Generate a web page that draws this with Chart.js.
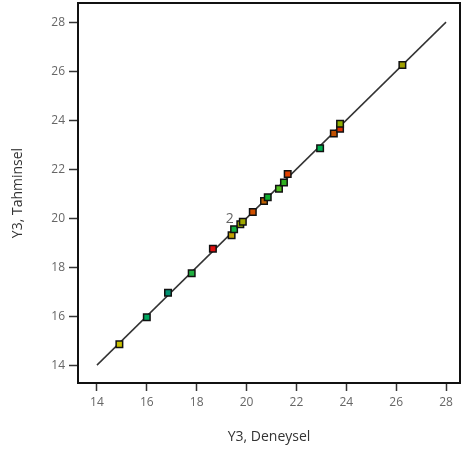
<!DOCTYPE html>
<html>
<head>
<meta charset="utf-8">
<script src="https://cdn.jsdelivr.net/npm/chart.js@4"></script>
<style>
  html, body { margin: 0; padding: 0; background: #fff; }
  #wrap { width: 462px; height: 452px; }
</style>
</head>
<body>
<div id="wrap"><canvas id="c" width="462" height="452"></canvas></div>
<script>
// Y3 actual (Deneysel) vs predicted (Tahminsel)
const actual    = [14.9, 16.0, 16.85, 17.8, 18.65, 19.4, 19.5, 19.75, 19.85, 20.25, 20.7, 20.85, 21.3, 21.5, 21.65, 22.95, 23.5, 23.75, 23.75, 26.25];
const predicted = [14.85, 15.95, 16.95, 17.75, 18.75, 19.3, 19.55, 19.75, 19.85, 20.25, 20.7, 20.85, 21.2, 21.45, 21.8, 22.85, 23.45, 23.65, 23.85, 26.25];
const pointColors = ['#c8c000', '#00a860', '#009070', '#20b040', '#e01010', '#c0a000', '#10b040', '#a0b000', '#a0a800', '#d05000',
                     '#c06000', '#10b030', '#50c020', '#30b020', '#e04000', '#00b050', '#c05000', '#e03000', '#90b000', '#a0a000'];
const tickValues = [14, 16, 18, 20, 22, 24, 26, 28];
const refLine = [14, 28];
// "2" marks two overlapping runs
const overlapLabel = { x: 19.33, y: 19.95, text: '2' };

const font = "'Open Sans', 'DejaVu Sans', sans-serif";

const frame = {
    id: 'frame',
    afterDatasetsDraw(chart) {
        const a = chart.chartArea, ctx = chart.ctx;
        ctx.save();
        ctx.strokeStyle = '#111';
        ctx.lineWidth = 2;
        ctx.strokeRect(a.left, a.top, a.right - a.left, a.bottom - a.top);
        // overlap count label
        const px = chart.scales.x.getPixelForValue(overlapLabel.x);
        const py = chart.scales.y.getPixelForValue(overlapLabel.y);
        ctx.font = '14px ' + font;
        ctx.textAlign = 'center';
        ctx.textBaseline = 'middle';
        ctx.lineWidth = 2;
        ctx.strokeStyle = '#fff';
        ctx.strokeText(overlapLabel.text, px, py);
        ctx.fillStyle = '#666';
        ctx.fillText(overlapLabel.text, px, py);
        ctx.restore();
    }
};

function fixedTicks(scale) {
    scale.ticks = tickValues.map(v => ({ value: v }));
}

new Chart(document.getElementById('c').getContext('2d'), {
    type: 'scatter',
    data: {
        datasets: [{
            data: actual.map((v, i) => ({ x: v, y: predicted[i] })),
            pointStyle: 'rect',
            pointRadius: 4.6,
            pointHoverRadius: 4.6,
            backgroundColor: pointColors,
            borderColor: '#111',
            borderWidth: 1.5
        }, {
            type: 'line',
            data: refLine.map(v => ({ x: v, y: v })),
            borderColor: '#333',
            borderWidth: 1.5,
            pointRadius: 0,
            fill: false
        }]
    },
    options: {
        responsive: false,
        animation: false,
        layout: { autoPadding: false, padding: { top: 3, right: 2, left: 0, bottom: 3 } },
        plugins: { legend: { display: false }, tooltip: { enabled: false } },
        scales: {
            x: {
                type: 'linear',
                min: 13.24,
                max: 28.56,
                afterBuildTicks: fixedTicks,
                afterFit(scale) { scale.height = 66; scale.paddingLeft = 0; scale.paddingRight = 0; },
                border: { display: false },
                grid: { drawOnChartArea: false, tickLength: 8, tickColor: '#333', tickWidth: 1.5 },
                ticks: { color: '#666', font: { family: font, size: 12 }, padding: 4, maxRotation: 0 },
                title: { display: true, text: 'Y3, Deneysel', color: '#333', font: { family: font, size: 14 }, padding: { top: 4, bottom: 4 } }
            },
            y: {
                type: 'linear',
                min: 13.27,
                max: 28.78,
                afterBuildTicks: fixedTicks,
                afterFit(scale) { scale.width = 78; scale.paddingTop = 0; scale.paddingBottom = 0; },
                border: { display: false },
                grid: { drawOnChartArea: false, tickLength: 9, tickColor: '#333', tickWidth: 1.5 },
                ticks: { color: '#666', font: { family: font, size: 12 }, padding: 4 },
                title: { display: true, text: 'Y3, Tahminsel', color: '#333', font: { family: font, size: 14 }, padding: { top: 10, bottom: 2 } }
            }
        }
    },
    plugins: [frame]
});
</script>
</body>
</html>
